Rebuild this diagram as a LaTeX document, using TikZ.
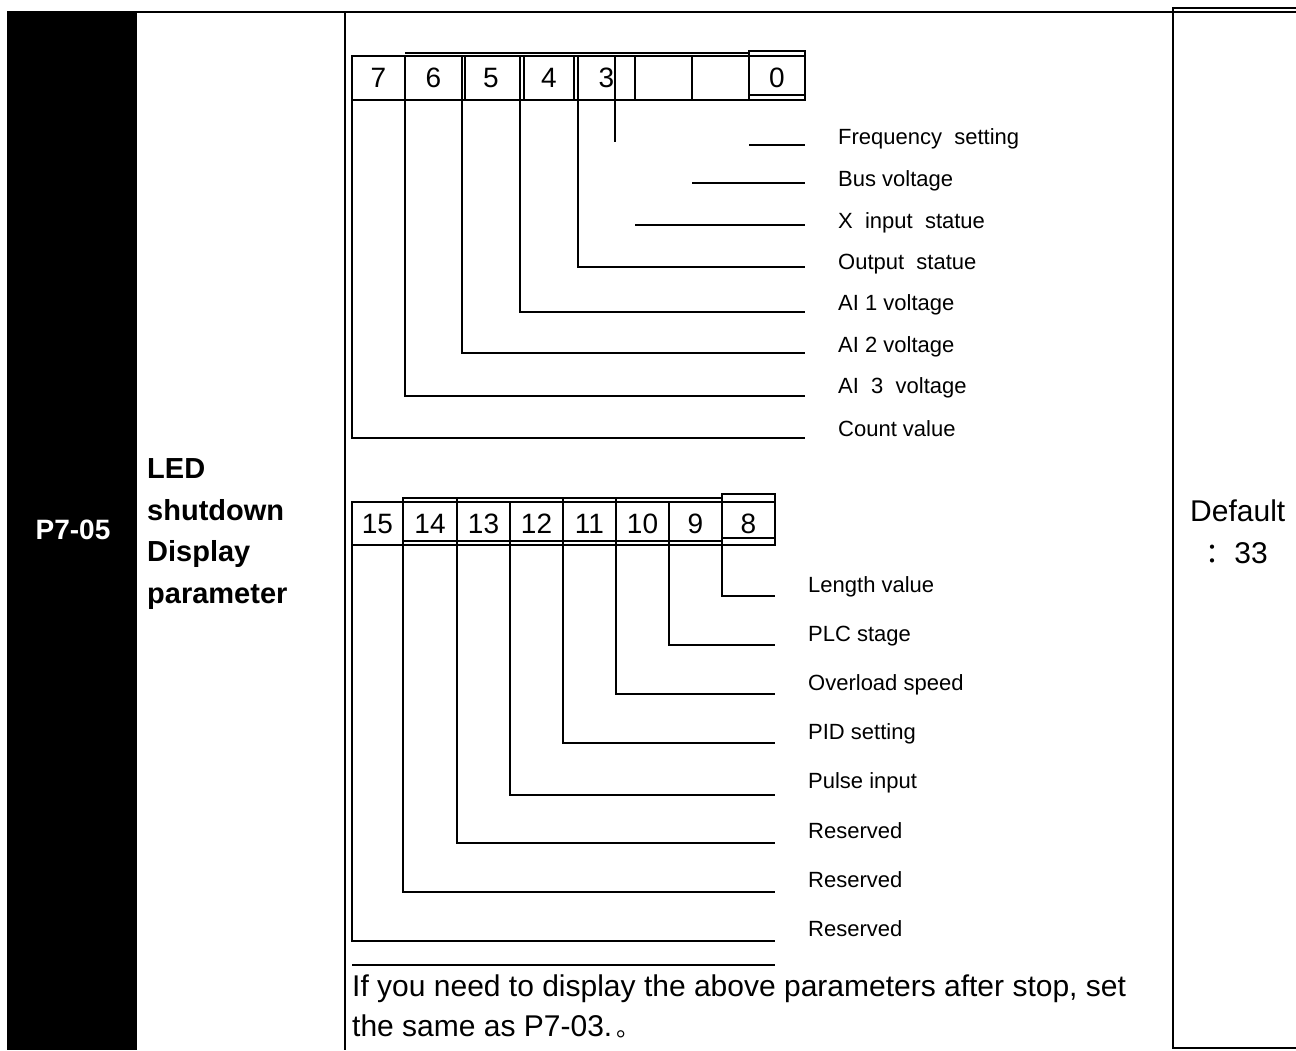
\documentclass[tikz,border=0pt]{standalone}
\usepackage{fontspec}
\setmainfont{Liberation Sans}
\newfontfamily\cjksc{Noto Sans CJK SC}
\newfontfamily\cjkjp{Noto Sans CJK JP}
\usetikzlibrary{calc}
\tikzset{
  cell/.style={draw, line width=2pt, inner sep=0pt, outer sep=0pt, font=\fontsize{28}{32}\selectfont},
  conn/.style={line width=2pt},
  thinrule/.style={line width=1.2pt},
  rule/.style={line width=1.8pt},
  lbl/.style={anchor=west, inner sep=0pt, font=\fontsize{22}{26}\selectfont},
  big/.style={inner sep=0pt, font=\fontsize{30}{36}\selectfont}
}
\begin{document}
\begin{tikzpicture}[x=1pt,y=-1pt]
\useasboundingbox (0,0) rectangle (1296,1050);
% table frame
\fill[black] (7,12) rectangle (137,1050);
\draw[rule] (7,12) -- (1173,12);
\draw[rule] (345,12) -- (345,1050);
\draw[rule] (1296,8) -- (1173,8) -- (1173,1048) -- (1296,1048);
\draw[thinrule] (1173,12) -- (1296,12);
% left cells
\node[text=white, inner sep=0pt, font=\bfseries\fontsize{28}{34}\selectfont] (code) at (73,530) {P7-05};
\node[anchor=west, align=left, inner sep=0pt, font=\bfseries\fontsize{29}{41.5}\selectfont] (name) at (147,534) {LED\\shutdown\\Display\\parameter};
% default
\node[anchor=west, inner sep=0pt, font=\fontsize{30}{36}\selectfont] (dflt) at (1190,511) {Default};
\node[inner sep=0pt, font=\cjkjp\fontsize{28}{30}\selectfont] (colon) at (1212,555) {：};
\node[inner sep=0pt, font=\fontsize{30}{36}\selectfont] (dval) at (1251,553) {33};
% ---------- upper bit row ----------
\foreach \nm/\t/\a/\b in {7/7/352/405, 6/6/405/462, 5/5/462/520, 4/4/520/578, 3/3/578/635, b2//635/692, b1//692/749, 0/0/749/805}
  \node[cell, minimum width={(\b-\a)*1pt}, minimum height=44pt] (c\nm) at ({(\a+\b)/2},78) {\t};
% doubled border artefacts
\draw[thinrule] (405,53) -- (749,53);
\draw[conn] (749,51) rectangle (805,95);
\draw[thinrule] (465,56) -- (465,100);
\draw[thinrule] (524,56) -- (524,100);
\draw[thinrule] (574,56) -- (574,100);
% stub
\coordinate (st1) at (615,55);
\coordinate (st2) at (615,142);
\draw[conn] (st1) -- (st2);
% connectors
\coordinate (e0) at (805,145);
\coordinate (e1) at (805,183);
\coordinate (e2) at (805,225);
\coordinate (e3) at (805,267);
\coordinate (e4) at (805,312);
\coordinate (e5) at (805,353);
\coordinate (e6) at (805,396);
\coordinate (e7) at (805,438);
\draw[conn] (c0.south west |- e0) -- (e0);
\draw[conn] (cb1.south west |- e1) -- (e1);
\draw[conn] (cb2.south west |- e2) -- (e2);
\foreach \i in {3,4,5,6,7}
  \draw[conn] (c\i.south west) |- (e\i);
% labels
\foreach \i/\y/\t in {0/139/Frequency~ setting, 1/181/Bus voltage, 2/223/X~ input~ statue, 3/264/Output~ statue, 4/305/AI 1 voltage, 5/347/AI 2 voltage, 6/388/AI~ 3~ voltage, 7/429/Count value}
  \node[lbl] (t\i) at (838,\y) {\t};
% ---------- lower bit row ----------
\foreach \nm/\a/\b in {15/352/403, 14/403/457, 13/457/510, 12/510/563, 11/563/616, 10/616/669, 9/669/722, 8/722/775}
  \node[cell, minimum width={(\b-\a)*1pt}, minimum height=43pt] (c\nm) at ({(\a+\b)/2},523.5) {\nm};
\draw[thinrule] (403,498) -- (722,498);
\draw[thinrule] (403,541) -- (722,541);
\draw[conn] (722,494) rectangle (775,538);
\draw[conn] (403,498) rectangle (457,541);
\draw[conn] (563,498) rectangle (616,545);
\coordinate (f8) at (775,596);
\coordinate (f9) at (775,645);
\coordinate (f10) at (775,694);
\coordinate (f11) at (775,743);
\coordinate (f12) at (775,795);
\coordinate (f13) at (775,843);
\coordinate (f14) at (775,892);
\coordinate (f15) at (775,941);
\foreach \i in {8,...,15}
  \draw[conn] (c\i.south west) |- (f\i);
\foreach \i/\y/\t in {8/587/Length value, 9/636/PLC stage, 10/685/Overload speed, 11/734/PID setting, 12/783/Pulse input, 13/831/Reserved, 14/880/Reserved, 15/929/Reserved}
  \node[lbl] (t\i) at (808,\y) {\t};
% ---------- note ----------
\coordinate (o1) at (352,965);
\coordinate (o2) at (775,965);
\draw[rule] (o1) -- (o2);
\node[big, anchor=base west] (note1) at (352,996) {If you need to display the above parameters after stop, set};
\node[big, anchor=base west] (note2) at (352,1036) {the same as P7-03.\hspace{4pt}{\cjksc\fontsize{24}{28}\selectfont 。}};
\end{tikzpicture}
\end{document}
